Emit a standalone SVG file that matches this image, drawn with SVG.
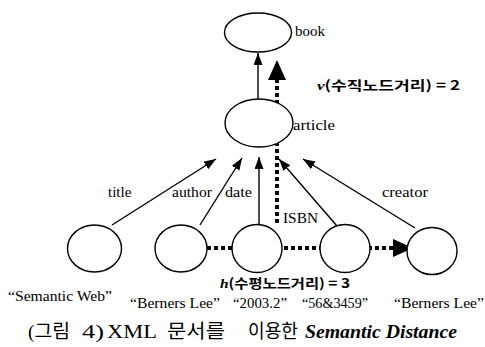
<svg xmlns="http://www.w3.org/2000/svg" width="485" height="347" viewBox="0 0 485 347">
<style>
.node{fill:#fff;stroke:#000;stroke-width:1.4}
.lbl{font-family:"Liberation Serif","Noto Sans CJK KR",serif;font-size:15px;fill:#000}
.edge{stroke:#000;stroke-width:1.4;fill:none}
.dot{stroke:#000;stroke-width:4;stroke-dasharray:4 3;fill:none}
.dist{font-family:"Noto Sans CJK KR",sans-serif;font-weight:bold;font-size:13px;fill:#000}
.cap{font-family:"Liberation Serif","Noto Sans CJK KR",serif;font-size:19px;fill:#000}
</style>
<defs>
<marker id="sa" markerUnits="userSpaceOnUse" markerWidth="13" markerHeight="10" refX="12" refY="4.5" orient="auto">
<path d="M0,0 L12,4.5 L0,9 z" fill="#000"/>
</marker>
<marker id="ba" markerUnits="userSpaceOnUse" markerWidth="21" markerHeight="19" refX="0" refY="9" orient="auto">
<path d="M0,0 L20,9 L0,18 z" fill="#000"/>
</marker>
</defs>
<g id="edges">
<line class="edge" x1="258" y1="99" x2="258" y2="53" marker-end="url(#sa)"/>
<line class="edge" x1="112" y1="225" x2="216" y2="159" marker-end="url(#sa)"/>
<line class="edge" x1="200" y1="225" x2="242" y2="158" marker-end="url(#sa)"/>
<line class="edge" x1="259" y1="225" x2="259" y2="157" marker-end="url(#sa)"/>
<line class="edge" x1="337" y1="226" x2="279" y2="159" marker-end="url(#sa)"/>
<line class="edge" x1="415" y1="228" x2="303" y2="159" marker-end="url(#sa)"/>
<line class="dot" x1="277" y1="223" x2="277" y2="80" marker-end="url(#ba)"/>
<line class="dot" x1="207" y1="248" x2="393" y2="248" marker-end="url(#ba)"/>
<text class="lbl" x="108" y="197">title</text>
<text class="lbl" x="172" y="197" textLength="40" lengthAdjust="spacingAndGlyphs">author</text>
<text class="lbl" x="225" y="197" textLength="27" lengthAdjust="spacingAndGlyphs">date</text>
<text class="lbl" x="283" y="223" textLength="35" lengthAdjust="spacingAndGlyphs">ISBN</text>
<text class="lbl" x="382" y="197" textLength="46" lengthAdjust="spacingAndGlyphs">creator</text>
<text class="dist" x="317" y="90" textLength="143" lengthAdjust="spacingAndGlyphs"><tspan font-family="Liberation Serif" font-style="italic">v</tspan>(수직노드거리) = 2</text>
<text class="dist" x="220" y="288" textLength="130" lengthAdjust="spacingAndGlyphs"><tspan font-family="Liberation Serif" font-style="italic">h</tspan>(수평노드거리) = 3</text>
</g>
<g id="book">
<ellipse class="node" cx="258" cy="32.5" rx="33.5" ry="19.5"/>
<text class="lbl" x="295" y="36">book</text>
</g>
<g id="article">
<ellipse class="node" cx="259" cy="123" rx="34" ry="24"/>
<text class="lbl" x="293" y="130" textLength="42" lengthAdjust="spacingAndGlyphs">article</text>
</g>
<g id="n1">
<ellipse class="node" cx="94.5" cy="248.5" rx="27" ry="23.5"/>
<text class="lbl" x="8" y="301" textLength="104" lengthAdjust="spacingAndGlyphs">“Semantic Web”</text>
</g>
<g id="n2">
<ellipse class="node" cx="181" cy="248.5" rx="26" ry="23.5"/>
<text class="lbl" x="130" y="308" textLength="90" lengthAdjust="spacingAndGlyphs">“Berners Lee”</text>
</g>
<g id="n3">
<ellipse class="node" cx="257" cy="248.5" rx="25" ry="24"/>
<text class="lbl" x="233" y="308" textLength="54" lengthAdjust="spacingAndGlyphs">“2003.2”</text>
</g>
<g id="n4">
<ellipse class="node" cx="345" cy="248.5" rx="25" ry="24"/>
<text class="lbl" x="302" y="308" textLength="66" lengthAdjust="spacingAndGlyphs">“56&amp;3459”</text>
</g>
<g id="n5">
<ellipse class="node" cx="432" cy="251" rx="25" ry="23.5"/>
<text class="lbl" x="394" y="308" textLength="90" lengthAdjust="spacingAndGlyphs">“Berners Lee”</text>
</g>
<g id="caption">
<text class="cap" x="28" y="338" textLength="42" lengthAdjust="spacingAndGlyphs">(그림</text>
<text class="cap" x="82" y="338" textLength="22" lengthAdjust="spacingAndGlyphs">4)</text>
<text class="cap" x="107" y="338" textLength="50" lengthAdjust="spacingAndGlyphs">XML</text>
<text class="cap" x="167" y="338" textLength="58" lengthAdjust="spacingAndGlyphs">문서를</text>
<text class="cap" x="248" y="338" textLength="50" lengthAdjust="spacingAndGlyphs">이용한</text>
<text class="cap" x="305" y="338" font-weight="bold" font-style="italic" textLength="152" lengthAdjust="spacingAndGlyphs">Semantic Distance</text>
</g>
</svg>
